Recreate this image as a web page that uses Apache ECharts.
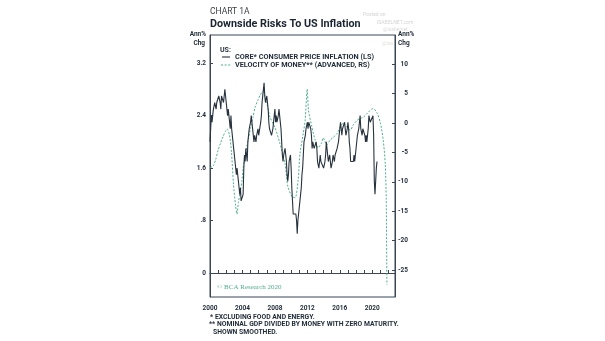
<!DOCTYPE html>
<html><head><meta charset="utf-8">
<script src="https://cdn.jsdelivr.net/npm/echarts@6/dist/echarts.min.js"></script>
<style>html,body{margin:0;padding:0;background:#fff}#c{width:605px;height:341px}</style>
</head><body><div id="c"></div>
<script>
// Core CPI, y/y %, monthly from Jan 2000 (left scale)
const cpiStart = 2000;
const coreCpi = [
  2.0,2.2,2.4,2.3,2.4,2.5,2.5,2.6,2.6,2.5,2.6,2.6,
  2.6,2.7,2.7,2.6,2.5,2.7,2.7,2.7,2.6,2.6,2.8,2.7,
  2.6,2.6,2.4,2.5,2.5,2.3,2.2,2.4,2.2,2.2,2.0,1.9,
  1.9,1.7,1.7,1.5,1.6,1.5,1.5,1.3,1.2,1.3,1.1,1.1,
  1.1,1.2,1.6,1.8,1.7,1.9,1.8,1.7,2.0,2.0,2.2,2.2,
  2.3,2.4,2.3,2.2,2.2,2.0,2.1,2.1,2.0,2.1,2.1,2.2,
  2.1,2.1,2.1,2.3,2.4,2.6,2.7,2.8,2.9,2.7,2.6,2.6,
  2.7,2.7,2.5,2.3,2.2,2.2,2.2,2.1,2.1,2.2,2.3,2.4,
  2.5,2.3,2.4,2.3,2.3,2.4,2.5,2.5,2.5,2.2,2.0,1.8,
  1.7,1.8,1.8,1.9,1.8,1.7,1.5,1.4,1.5,1.7,1.7,1.8,
  1.6,1.3,1.1,0.9,0.9,0.9,0.9,0.9,0.8,0.6,0.8,0.8,
  1.0,1.1,1.2,1.3,1.5,1.6,1.8,2.0,2.0,2.1,2.2,2.2,
  2.3,2.2,2.3,2.3,2.3,2.2,2.1,1.9,2.0,2.0,1.9,1.9,
  1.9,2.0,1.9,1.7,1.7,1.6,1.7,1.8,1.7,1.7,1.7,1.7,
  1.6,1.6,1.7,1.8,2.0,1.9,1.9,1.7,1.7,1.8,1.7,1.6,
  1.6,1.7,1.8,1.8,1.7,1.8,1.8,1.8,1.9,1.9,2.0,2.1,
  2.2,2.3,2.2,2.1,2.2,2.2,2.2,2.3,2.2,2.1,2.1,2.2,
  2.3,2.2,2.0,1.9,1.7,1.7,1.7,1.7,1.7,1.8,1.7,1.8,
  1.8,1.8,2.1,2.1,2.2,2.3,2.4,2.2,2.2,2.1,2.2,2.2,
  2.2,2.1,2.0,2.1,2.0,2.1,2.2,2.4,2.4,2.3,2.3,2.3,
  2.3,2.4,2.1,1.4,1.2,1.2,1.6,1.7
];
// Velocity of money, y/y %, advanced & smoothed (right scale)
const velocityDates = [
  2000.0,2000.4,2000.7,2001.0,2001.3,2001.6,2001.9,2002.1,2002.4,2002.65,2002.9,2003.15,2003.33,
  2003.5,2003.75,2003.95,2004.1,2004.4,2004.7,2005.0,2005.3,2005.55,2005.9,2006.2,2006.5,2006.8,
  2007.0,2007.4,2008.0,2008.6,2009.0,2009.26,2009.6,2010.1,2010.5,2010.86,2011.1,2011.5,2011.73,
  2011.98,2012.14,2012.55,2012.96,2013.3,2013.75,2013.95,2014.4,2014.8,2015.2,2015.7,2016.05,
  2016.4,2016.9,2017.3,2017.65,2018.15,2018.5,2018.9,2019.4,2019.75,2020.1,2020.6,2021.0,2021.35,
  2021.6,2021.72,2021.8
];
const velocityValues = [
  -7.6,-7.3,-6.2,-4.6,-3.4,-2.3,-1.4,-1.0,-2.0,-5.0,-10.5,-14.0,-15.5,
  -13.5,-11.5,-9.7,-7.5,-5.0,-2.9,-0.8,1.0,2.7,3.9,4.8,5.4,4.5,
  3.4,1.0,-0.7,-3.4,-5.5,-7.0,-10.8,-12.5,-12.7,-9.7,-5.1,-1.7,0.5,
  5.8,2.2,-0.6,-2.9,-4.2,-3.4,-2.5,-3.7,-2.9,-2.4,-1.7,-0.7,
  0.0,-0.7,-1.2,-0.3,0.5,0.8,1.0,1.7,2.2,2.5,1.7,0.0,-2.9,
  -7.0,-13.0,-27.5
];
const leftTicks = [0, 0.8, 1.6, 2.4, 3.2];
const leftTickLabels = ['0', '.8', '1.6', '2.4', '3.2'];
const rightTicks = [-25, -20, -15, -10, -5, 0, 5, 10];
const yearLabels = [2000, 2004, 2008, 2012, 2016, 2020];

const cpiData = coreCpi.map((v, i) => [cpiStart + i / 12, v]);
const velData = velocityDates.map((t, i) => [t, velocityValues[i]]);

const ink = '#1f2b38';
const axisCol = '#3a4654';
const teal = '#4fae8c';
const F = 'Roboto, "Noto Sans", sans-serif';

function txt(text, x, y, font, fill, align) {
  return { type: 'text', x: x, y: y, silent: true,
    style: { text: text, font: font, fill: fill || ink, textAlign: align || 'left', textVerticalAlign: 'middle' } };
}

const chart = echarts.init(document.getElementById('c'), null, { renderer: 'canvas' });
chart.setOption({
  animation: false,
  backgroundColor: '#fff',
  grid: { left: 210, right: 210, top: 35, bottom: 44, show: true, borderColor: axisCol, borderWidth: 1, containLabel: false },
  xAxis: {
    type: 'value', min: 2000, max: 2022.8, interval: 1,
    axisLine: { show: true, lineStyle: { color: axisCol, width: 1 } },
    axisTick: { show: true, inside: true, length: 3, lineStyle: { color: axisCol } },
    axisLabel: { show: true, margin: 8, color: ink, fontSize: 6.5, fontWeight: 'bold', fontFamily: F,
      showMaxLabel: false,
      formatter: v => (yearLabels.indexOf(Math.round(v)) >= 0 && Math.abs(v - Math.round(v)) < 1e-6) ? String(Math.round(v)) : '' },
    splitLine: { show: false }
  },
  yAxis: [
    { type: 'value', position: 'left', min: -0.366, max: 3.63,
      axisLine: { show: true, lineStyle: { color: axisCol, width: 1 } },
      axisTick: { show: true, inside: true, length: 3, customValues: leftTicks, lineStyle: { color: axisCol } },
      axisLabel: { show: true, customValues: leftTicks, margin: 4, color: ink, fontSize: 6.5, fontWeight: 'bold', fontFamily: F,
        formatter: v => { const i = leftTicks.findIndex(t => Math.abs(t - v) < 1e-6); return i >= 0 ? leftTickLabels[i] : ''; } },
      splitLine: { show: false } },
    { type: 'value', position: 'right', min: -29.6, max: 15,
      axisLine: { show: true, lineStyle: { color: axisCol, width: 1 } },
      axisTick: { show: true, inside: true, length: 3, customValues: rightTicks, lineStyle: { color: axisCol } },
      axisLabel: { show: true, customValues: rightTicks, margin: 13, align: 'right', color: ink, fontSize: 6.5, fontWeight: 'bold', fontFamily: F },
      splitLine: { show: false } }
  ],
  series: [
    { name: 'VELOCITY OF MONEY** (ADVANCED, RS)', type: 'line', yAxisIndex: 1, data: velData,
      showSymbol: false, symbol: 'none', smooth: 0.25, z: 2,
      lineStyle: { color: teal, width: 1, type: [2, 1.6] } },
    { name: 'CORE* CONSUMER PRICE INFLATION (LS)', type: 'line', yAxisIndex: 0, data: cpiData,
      showSymbol: false, symbol: 'none', z: 3,
      lineStyle: { color: '#27323d', width: 1.1 } }
  ],
  graphic: [
    txt('CHART 1A', 210, 12, '8.5px ' + F, '#3a3f45'),
    txt('Downside Risks To US Inflation', 210, 24, 'bold 10.8px ' + F, '#1b2633'),
    txt('Ann%', 206, 34.5, 'bold 6.5px ' + F, ink, 'right'),
    txt('Chg', 205, 43, 'bold 6.5px ' + F, ink, 'right'),
    txt('Ann%', 398, 34.5, 'bold 6.5px ' + F, ink, 'left'),
    txt('Chg', 398, 43, 'bold 6.5px ' + F, ink, 'left'),
    txt('US:', 220, 50, 'bold 7px ' + F, ink),
    { type: 'line', silent: true, shape: { x1: 222, y1: 57, x2: 230, y2: 57 }, style: { stroke: '#27323d', lineWidth: 1.1 } },
    txt('CORE* CONSUMER PRICE INFLATION (LS)', 235, 57.5, 'bold 7.3px ' + F, ink),
    { type: 'line', silent: true, shape: { x1: 221, y1: 65, x2: 231, y2: 65 }, style: { stroke: teal, lineWidth: 1, lineDash: [2, 1.6] } },
    txt('VELOCITY OF MONEY** (ADVANCED, RS)', 235, 65.5, 'bold 7.3px ' + F, ink),
    txt('© BCA Research 2020', 217, 287.5, '7px "Liberation Serif", "DejaVu Serif", serif', teal),
    txt('*', 210, 317, 'bold 6.8px ' + F, ink),
    txt('EXCLUDING FOOD AND ENERGY.', 215, 317, 'bold 6.8px ' + F, ink),
    txt('**', 209, 324.5, 'bold 6.8px ' + F, ink),
    txt('NOMINAL GDP DIVIDED BY MONEY WITH ZERO MATURITY.', 217, 324.5, 'bold 6.8px ' + F, ink),
    txt('SHOWN SMOOTHED.', 213, 332, 'bold 6.8px ' + F, ink),
    txt('Posted on', 363, 15, '5px ' + F, '#d4d4d4'),
    txt('ISABELNET.com', 377, 23, '5px ' + F, '#d4d4d4'),
    txt('@isabelnet', 383, 30, '5px ' + F, '#dcdcdc'),
    txt('@isa', 382, 43.5, '5px ' + F, '#e2e2e2')
  ]
});
</script>
</body></html>
